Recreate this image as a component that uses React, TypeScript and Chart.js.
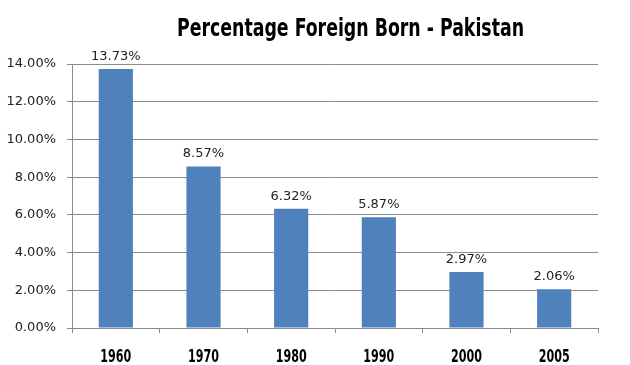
import React, { useEffect, useRef } from "react";
import { Chart, registerables } from "chart.js";

Chart.register(...registerables);

const TITLE = "Percentage Foreign Born - Pakistan";
const categories = ["1960", "1970", "1980", "1990", "2000", "2005"];
const values = [13.73, 8.57, 6.32, 5.87, 2.97, 2.06];
const yMin = 0;
const yMax = 14;
const yStep = 2;

const fmt = (v: number) => v.toFixed(2) + "%";
const CONDENSED = "'Liberation Sans Narrow', 'DejaVu Sans Condensed', 'Liberation Sans', sans-serif";

const titlePlugin = {
  id: "scaledTitle",
  afterDraw(chart: any) {
    const ctx = chart.ctx;
    ctx.save();
    ctx.font = "bold 25px " + CONDENSED;
    const w = ctx.measureText(TITLE).width;
    const sx = 347 / w;
    ctx.translate(350.5, 35.5);
    ctx.scale(sx, 1);
    ctx.fillStyle = "#000";
    ctx.textAlign = "center";
    ctx.textBaseline = "alphabetic";
    ctx.fillText(TITLE, 0, 0);
    ctx.restore();
  },
};

const xLabels = {
  id: "xLabels",
  afterDraw(chart: any) {
    const ctx = chart.ctx;
    const xs = chart.scales.x;
    ctx.save();
    ctx.font = "bold 18px " + CONDENSED;
    ctx.fillStyle = "#000";
    ctx.textAlign = "center";
    ctx.textBaseline = "alphabetic";
    const ref = ctx.measureText("2000").width;
    const sx = 31 / ref;
    categories.forEach((c, i) => {
      const x = xs.getPixelForValue(i);
      ctx.save();
      ctx.translate(x, 362);
      ctx.scale(sx, 1);
      ctx.fillText(c, 0, 0);
      ctx.restore();
    });
    ctx.restore();
  },
};

const valueLabels = {
  id: "valueLabels",
  afterDatasetsDraw(chart: any) {
    const ctx = chart.ctx;
    const meta = chart.getDatasetMeta(0);
    ctx.save();
    ctx.font = "13px 'DejaVu Sans', sans-serif";
    ctx.fillStyle = "#222";
    ctx.textAlign = "center";
    ctx.textBaseline = "alphabetic";
    meta.data.forEach((el: any, i: number) => {
      ctx.fillText(fmt(values[i]), el.x, el.y - 9);
    });
    ctx.restore();
  },
};

export default function App() {
  const ref = useRef<HTMLCanvasElement | null>(null);
  useEffect(() => {
    if (!ref.current) return;
    const grid = "#8c8c8c";
    const chart = new Chart(ref.current, {
      type: "bar",
      data: {
        labels: categories,
        datasets: [
          {
            data: values,
            backgroundColor: "#4f81bd",
            borderWidth: 0,
            barPercentage: 0.39,
            categoryPercentage: 1,
          },
        ],
      },
      options: {
        animation: false,
        responsive: false,
        maintainAspectRatio: false,
        layout: { padding: { top: 64, right: 32, bottom: 0, left: 0 } },
        plugins: {
          legend: { display: false },
          title: { display: false },
          tooltip: { enabled: false },
        },
        scales: {
          x: {
            afterFit: (s: any) => {
              s.height = 37;
            },
            grid: {
              offset: true,
              drawOnChartArea: false,
              drawTicks: true,
              tickLength: 5,
              color: grid,
            },
            border: { display: true, color: grid, width: 1 },
            ticks: { display: false },
          },
          y: {
            min: yMin,
            max: yMax,
            afterFit: (s: any) => {
              s.width = 72;
            },
            grid: { color: grid, drawTicks: true, tickLength: 5 },
            border: { display: true, color: grid, width: 1 },
            ticks: {
              stepSize: yStep,
              padding: 11,
              color: "#222",
              font: { family: "'DejaVu Sans', sans-serif", size: 13 },
              callback: (v: any) => fmt(Number(v)),
            },
          },
        },
      },
      plugins: [titlePlugin, xLabels, valueLabels],
    });
    return () => chart.destroy();
  }, []);
  return (
    <canvas
      ref={ref}
      width={630}
      height={365}
      style={{ position: "fixed", left: 0, top: 0, width: 630, height: 365, display: "block", background: "#fff" }}
    />
  );
}
